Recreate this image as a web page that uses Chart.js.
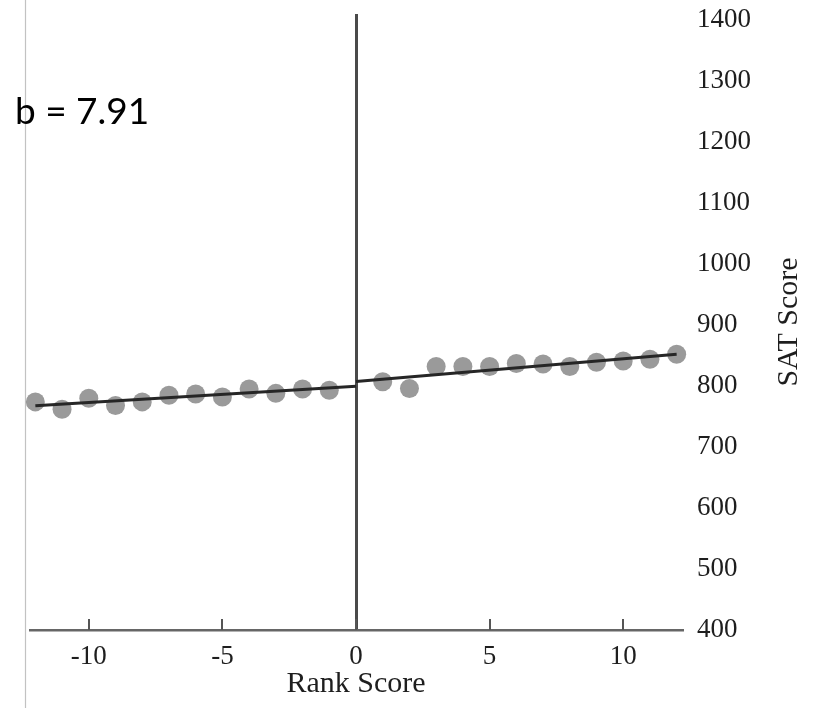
<!DOCTYPE html>
<html>
<head>
<meta charset="utf-8">
<script src="https://cdn.jsdelivr.net/npm/chart.js@4"></script>
<style>
  html, body { margin: 0; padding: 0; background: #fff; }
  canvas { display: block; }
</style>
</head>
<body>
<canvas id="rd" width="817" height="708"></canvas>
<script>
// Rank score (running variable) and mean SAT score on each side of the cutoff
const rankBelow = [-12, -11, -10, -9, -8, -7, -6, -5, -4, -3, -2, -1];
const satBelow  = [774, 762, 780, 768, 774, 785, 787, 782, 795, 788, 795, 793];
const rankAbove = [1, 2, 3, 4, 5, 6, 7, 8, 9, 10, 11, 12];
const satAbove  = [807, 796, 832, 832, 832, 837, 836, 832, 839, 841, 844, 852];

// Fitted regression lines; the jump at the cutoff is b
const jumpB = 7.91;
const fitBelowX = [-12, 0];
const fitBelowY = [767.5, 799.5];
const fitAboveX = [0, 12];
const fitAboveY = [fitBelowY[1] + jumpB, 852];

const xTicks = [-10, -5, 0, 5, 10];
const yTicks = [400, 500, 600, 700, 800, 900, 1000, 1100, 1200, 1300, 1400];

const serif = "'Liberation Serif', 'Times New Roman', serif";
const toPoints = (xs, ys) => xs.map((x, i) => ({ x: x, y: ys[i] }));

// Upward tick marks on the x axis, the page frame line, the rotated y title and the b label
const decorations = {
  id: 'decorations',
  beforeDraw(chart) {
    const ctx = chart.ctx;
    ctx.save();
    ctx.strokeStyle = '#c2c2c2';
    ctx.lineWidth = 1.2;
    ctx.beginPath();
    ctx.moveTo(25.5, 0);
    ctx.lineTo(25.5, chart.height);
    ctx.stroke();
    ctx.restore();
  },
  afterDraw(chart) {
    const ctx = chart.ctx;
    const xs = chart.scales.x;
    const area = chart.chartArea;
    ctx.save();
    ctx.strokeStyle = '#555';
    ctx.lineWidth = 2;
    xTicks.forEach(v => {
      const px = Math.round(xs.getPixelForValue(v));
      ctx.beginPath();
      ctx.moveTo(px, area.bottom);
      ctx.lineTo(px, area.bottom - 11);
      ctx.stroke();
    });

    ctx.fillStyle = '#1e1e1e';
    ctx.font = '30px ' + serif;
    ctx.textAlign = 'center';
    ctx.textBaseline = 'middle';
    ctx.translate(789, (area.top + area.bottom) / 2);
    ctx.rotate(-Math.PI / 2);
    ctx.fillText('SAT Score', 0, 0);
    ctx.restore();

    ctx.save();
    ctx.fillStyle = '#000';
    ctx.font = "37px Lato, 'Open Sans', sans-serif";
    ctx.textAlign = 'left';
    ctx.textBaseline = 'alphabetic';
    ctx.fillText('b = ' + jumpB.toFixed(2), 15, 124);
    ctx.restore();
  }
};

new Chart(document.getElementById('rd'), {
  type: 'scatter',
  data: {
    datasets: [
      {
        data: toPoints(fitBelowX, fitBelowY),
        showLine: true, borderColor: '#262626', borderWidth: 3,
        pointRadius: 0, order: 0, clip: false
      },
      {
        data: toPoints(fitAboveX, fitAboveY),
        showLine: true, borderColor: '#262626', borderWidth: 3,
        pointRadius: 0, order: 0, clip: false
      },
      {
        data: toPoints(rankBelow, satBelow),
        backgroundColor: '#9a9a9a', borderWidth: 0,
        pointRadius: 9.5, order: 1, clip: false
      },
      {
        data: toPoints(rankAbove, satAbove),
        backgroundColor: '#9a9a9a', borderWidth: 0,
        pointRadius: 9.5, order: 1, clip: false
      }
    ]
  },
  options: {
    responsive: false,
    devicePixelRatio: 1,
    animation: false,
    layout: { padding: { left: 30, top: 14, right: 0, bottom: 0 } },
    plugins: { legend: { display: false }, tooltip: { enabled: false } },
    scales: {
      x: {
        type: 'linear',
        min: -12.2,
        max: 12.2,
        afterBuildTicks(scale) { scale.ticks = xTicks.map(v => ({ value: v })); },
        afterFit(scale) {
          scale.height = 78;
          scale.paddingLeft = 0;
          scale.paddingRight = 0;
        },
        border: { display: true, color: '#666', width: 2.5 },
        grid: {
          display: true,
          drawTicks: false,
          drawOnChartArea: true,
          color: c => (c.tick && c.tick.value === 0 ? '#4a4a4a' : 'rgba(0,0,0,0)'),
          lineWidth: 3
        },
        ticks: {
          padding: 11,
          color: '#1e1e1e',
          font: { family: serif, size: 27 },
          maxRotation: 0,
          callback: v => String(v)
        },
        title: {
          display: true,
          text: 'Rank Score',
          color: '#1e1e1e',
          font: { family: serif, size: 30 },
          padding: { top: 0, bottom: 6 }
        }
      },
      y: {
        type: 'linear',
        position: 'right',
        min: 400,
        max: 1410,
        afterBuildTicks(scale) { scale.ticks = yTicks.map(v => ({ value: v })); },
        afterFit(scale) {
          scale.width = 135;
          scale.paddingTop = 0;
          scale.paddingBottom = 0;
        },
        border: { display: false },
        grid: { display: false, drawTicks: false },
        ticks: {
          padding: 15,
          color: '#1e1e1e',
          font: { family: serif, size: 27 },
          callback: v => String(v)
        }
      }
    }
  },
  plugins: [decorations]
});
</script>
</body>
</html>
